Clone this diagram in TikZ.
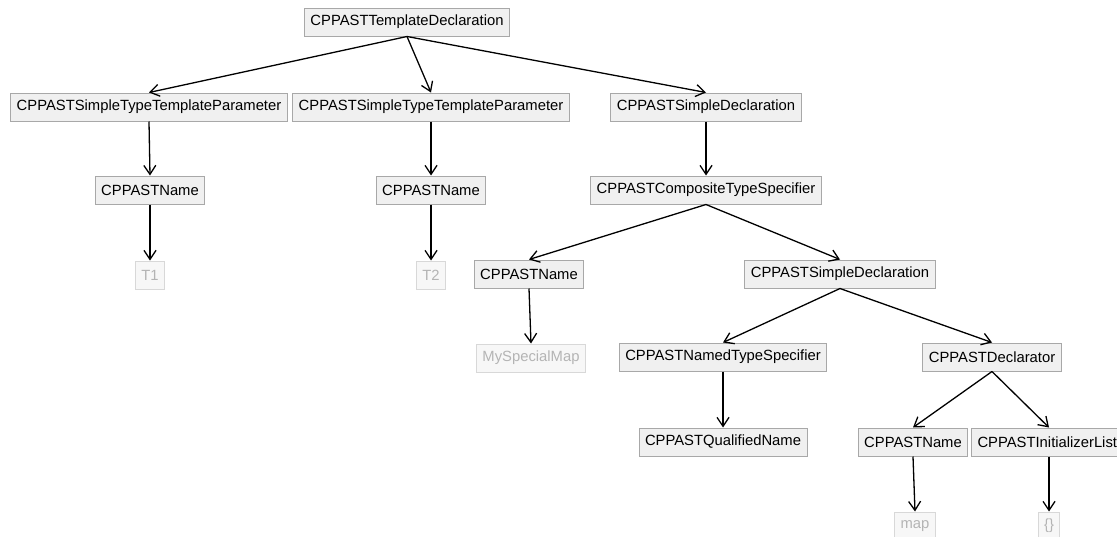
\documentclass[tikz,border=0pt]{standalone}
\usepackage{fontspec}
\setmainfont{Liberation Sans}
\usetikzlibrary{arrows.meta}

\definecolor{boxfill}{HTML}{F0F0F0}
\definecolor{boxline}{HTML}{A8A8A8}
\definecolor{leafline}{HTML}{D8D8D8}
\definecolor{leaftext}{HTML}{B4B4B4}

\begin{document}
\begin{tikzpicture}[x=1pt, y=-1pt,
    ast/.style={draw=boxline, line width=1pt, fill=boxfill, font=\fontsize{14.8}{17}\selectfont,
        minimum height=28pt, inner xsep=6pt, inner ysep=0pt},
    leaf/.style={ast, draw=leafline, fill=white!97!black, text=leaftext},
    edge/.style={line width=1.3pt, -{Straight Barb[length=9pt, width=12pt, line width=1.3pt]}}]
    \useasboundingbox (0, 0) rectangle (1117, 536);
    \clip (0, 0) rectangle (1117, 536);

    % tree
    \node[ast] (root) at (407, 22) {CPPASTTemplateDeclaration};

    \node[ast] (parmA) at (149, 107) {CPPASTSimpleTypeTemplateParameter};
    \node[ast] (parmB) at (431, 107) {CPPASTSimpleTypeTemplateParameter};
    \node[ast] (decl) at (706, 107) {CPPASTSimpleDeclaration};

    \node[ast] (nameA) at (150, 190) {CPPASTName};
    \node[ast] (nameB) at (431, 190) {CPPASTName};
    \node[ast] (comp) at (706, 190) {CPPASTCompositeTypeSpecifier};

    \node[leaf] (tA) at (150, 275) {T1};
    \node[leaf] (tB) at (431, 275) {T2};
    \node[ast] (nameC) at (529, 274) {CPPASTName};
    \node[ast] (declB) at (840, 274) {CPPASTSimpleDeclaration};

    \node[leaf] (mapname) at (531, 358) {MySpecialMap};
    \node[ast] (named) at (723, 357) {CPPASTNamedTypeSpecifier};
    \node[ast] (dtor) at (992, 357) {CPPASTDeclarator};

    \node[ast] (qual) at (723, 442) {CPPASTQualifiedName};
    \node[ast] (nameD) at (913, 442) {CPPASTName};
    \node[ast, anchor=west] (init) at (971, 442) {CPPASTInitializerList};

    \node[leaf] (map) at (915, 526) {map};
    \node[leaf] (braces) at (1049, 526) {\{\}};

    \draw[edge] (root.south) -- (parmA.north);
    \draw[edge] (root.south) -- (parmB.north);
    \draw[edge] (root.south) -- (decl.north);
    \draw[edge] (parmA.south) -- (nameA.north);
    \draw[edge] (parmB.south) -- (nameB.north);
    \draw[edge] (decl.south) -- (comp.north);
    \draw[edge] (nameA.south) -- (tA.north);
    \draw[edge] (nameB.south) -- (tB.north);
    \draw[edge] (comp.south) -- (nameC.north);
    \draw[edge] (comp.south) -- (declB.north);
    \draw[edge] (nameC.south) -- (mapname.north);
    \draw[edge] (declB.south) -- (named.north);
    \draw[edge] (declB.south) -- (dtor.north);
    \draw[edge] (named.south) -- (qual.north);
    \draw[edge] (dtor.south) -- (nameD.north);
    \draw[edge] (dtor.south) -- (init.north -| braces.north);
    \draw[edge] (nameD.south) -- (map.north);
    \draw[edge] (init.south -| braces.north) -- (braces.north);
\end{tikzpicture}
\end{document}
